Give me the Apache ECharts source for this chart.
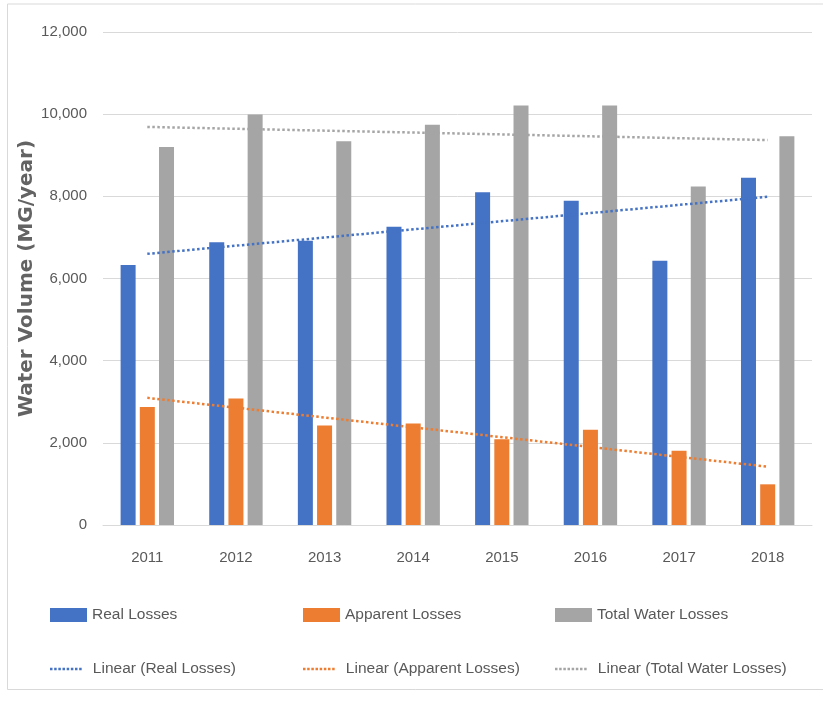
<!DOCTYPE html>
<html>
<head>
<meta charset="utf-8">
<script src="https://cdn.jsdelivr.net/npm/echarts@6/dist/echarts.min.js"></script>
<style>
html,body{margin:0;padding:0;background:#fff;}
#chart{width:823px;height:701px;}
</style>
</head>
<body>
<div id="chart"></div>
<script>
var years = ['2011','2012','2013','2014','2015','2016','2017','2018'];
var realLosses = [6330, 6880, 6920, 7260, 8100, 7890, 6430, 8450];
var apparentLosses = [2870, 3080, 2420, 2470, 2090, 2320, 1810, 990];
var totalLosses = [9200, 9990, 9340, 9740, 10210, 10210, 8240, 9460];
// trendline endpoints (2011 and 2018)
var realTrend = [6600, null, null, null, null, null, null, 7990];
var apparentTrend = [3095, null, null, null, null, null, null, 1420];
var totalTrend = [9690, null, null, null, null, null, null, 9370];
var yTicks = [0, 2000, 4000, 6000, 8000, 10000, 12000];

var C_BLUE = '#4472C4', C_ORANGE = '#ED7D31', C_GRAY = '#A5A5A5';
var FONT = 'Liberation Sans';
var txt = {fontFamily: FONT, fontSize: 15.5, color: '#595959', lineHeight: 18};
var DOTS = 'path://M0,0h3v3h-3zM5,0h3v3h-3zM10,0h3v3h-3zM15,0h3v3h-3zM20,0h3v3h-3zM25,0h3v3h-3zM30,0h3v3h-3zM35,0h3v3h-3z';

function legendAt(name, left, top, isLine) {
  return {
    data: [{name: name, icon: isLine ? DOTS : 'rect'}], left: left, top: top, orient: 'horizontal',
    itemWidth: isLine ? 34 : 37, itemHeight: isLine ? 2.5 : 14, itemGap: 0,
    padding: 0, textStyle: Object.assign({padding: isLine ? [0, 0, 0, 5] : 0}, txt),
    selectedMode: false
  };
}

var chart = echarts.init(document.getElementById('chart'), null, {renderer: 'canvas'});
chart.setOption({
  animation: false,
  backgroundColor: '#fff',
  graphic: [{
    type: 'polyline', silent: true,
    shape: {points: [[823, 4], [7.5, 4], [7.5, 689.5], [823, 689.5]]},
    style: {stroke: '#d9d9d9', lineWidth: 1, fill: null}
  }],
  grid: {left: 103, right: 11, top: 32, bottom: 176, containLabel: false},
  legend: [
    legendAt('Real Losses', 50, 606, false),
    legendAt('Apparent Losses', 303, 606, false),
    legendAt('Total Water Losses', 555, 606, false),
    legendAt('Linear (Real Losses)', 50, 660, true),
    legendAt('Linear (Apparent Losses)', 303, 660, true),
    legendAt('Linear (Total Water Losses)', 555, 660, true)
  ],
  xAxis: {
    type: 'category', data: years,
    axisLine: {lineStyle: {color: '#d9d9d9', width: 1}},
    axisTick: {show: false},
    axisLabel: {fontFamily: FONT, fontSize: 15, color: '#595959', margin: 25}
  },
  yAxis: {
    type: 'value', min: yTicks[0], max: yTicks[yTicks.length - 1], interval: 2000,
    name: 'Water Volume (MG/year)', nameLocation: 'middle', nameGap: 66, nameMoveOverlap: false,
    nameTextStyle: {fontFamily: 'DejaVu Sans', fontSize: 20, fontWeight: 'bold', color: '#636363'},
    axisLine: {show: false}, axisTick: {show: false},
    axisLabel: {
      fontFamily: FONT, fontSize: 15, color: '#595959', margin: 16,
      formatter: function (v) { return v.toLocaleString('en-US'); }
    },
    splitLine: {lineStyle: {color: '#d9d9d9', width: 1}}
  },
  series: [
    {name: 'Real Losses', type: 'bar', data: realLosses, barWidth: 15, barGap: '28%', itemStyle: {color: C_BLUE}},
    {name: 'Apparent Losses', type: 'bar', data: apparentLosses, barWidth: 15, barGap: '28%', itemStyle: {color: C_ORANGE}},
    {name: 'Total Water Losses', type: 'bar', data: totalLosses, barWidth: 15, barGap: '28%', itemStyle: {color: C_GRAY}},
    {name: 'Linear (Real Losses)', type: 'line', data: realTrend, connectNulls: true, symbol: 'none', z: 5,
      itemStyle: {color: C_BLUE}, lineStyle: {color: C_BLUE, width: 2.5, type: [2.5, 2.5], cap: 'butt'}},
    {name: 'Linear (Apparent Losses)', type: 'line', data: apparentTrend, connectNulls: true, symbol: 'none', z: 5,
      itemStyle: {color: C_ORANGE}, lineStyle: {color: C_ORANGE, width: 2.5, type: [2.5, 2.5], cap: 'butt'}},
    {name: 'Linear (Total Water Losses)', type: 'line', data: totalTrend, connectNulls: true, symbol: 'none', z: 5,
      itemStyle: {color: C_GRAY}, lineStyle: {color: C_GRAY, width: 2.5, type: [2.5, 2.5], cap: 'butt'}}
  ]
});
</script>
</body>
</html>
